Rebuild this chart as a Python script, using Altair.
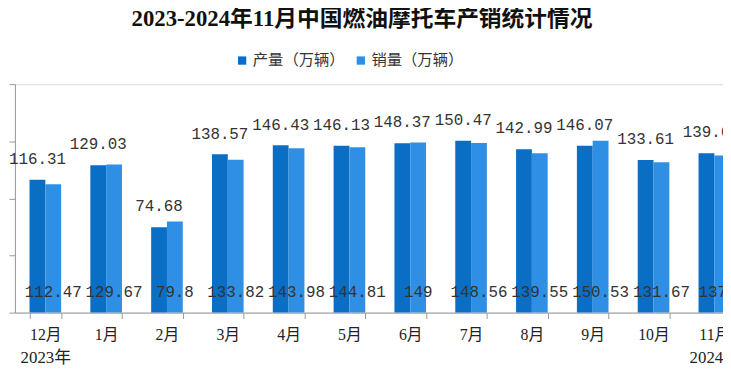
import altair as alt
import pandas as pd

months = ["12月", "1月", "2月", "3月", "4月", "5月", "6月", "7月", "8月", "9月", "10月", "11月"]
production = [116.31, 129.03, 74.68, 138.57, 146.43, 146.13, 148.37, 150.47, 142.99, 146.07, 133.61, 139.6]
sales = [112.47, 129.67, 79.8, 133.82, 143.98, 144.81, 149, 148.56, 139.55, 150.53, 131.67, 137.5]
series = ["产量（万辆）", "销量（万辆）"]
colors = ["#0A6EC4", "#2F8FE4"]
years = ["2023年", "2024年"]
year_months = ["12月", "11月"]
y_ticks = [0, 50, 100, 150, 200]

rows = []
for m, p, s in zip(months, production, sales):
    rows.append({"month": m, "series": series[0], "value": p, "label": f"{p:g}"})
    rows.append({"month": m, "series": series[1], "value": s, "label": f"{s:g}"})
df = pd.DataFrame(rows)
year_df = pd.DataFrame({"month": year_months, "year": years})

x_scale = alt.Scale(domain=months, range=[0, 738], paddingInner=0.48, paddingOuter=0.24)
off_scale = alt.Scale(domain=series)
y_scale = alt.Scale(domain=[0, 200])

base = alt.Chart(df)

x_enc = alt.X("month:N", scale=x_scale, sort=months,
              axis=alt.Axis(title=None, labelAngle=0, tickBand="extent",
                            labelFont="Liberation Serif, Noto Sans CJK SC",
                            labelFontSize=16, labelColor="#222",
                            tickSize=6, labelPadding=8,
                            domainColor="#999", tickColor="#999"))
xo = alt.XOffset("series:N", scale=off_scale)

bars = base.mark_bar().encode(
    x=x_enc,
    xOffset=xo,
    y=alt.Y("value:Q", scale=y_scale,
            axis=alt.Axis(title=None, values=y_ticks, labels=False, grid=False,
                          tickSize=6, domainColor="#999", tickColor="#999")),
    color=alt.Color("series:N", scale=alt.Scale(domain=series, range=colors),
                    legend=alt.Legend(title=None, orient="none", direction="horizontal",
                                      legendX=222, legendY=-32,
                                      symbolType="square", symbolSize=70,
                                      symbolStrokeWidth=0,
                                      labelFont="Noto Sans CJK SC", labelFontSize=15.5,
                                      labelColor="#333", columnPadding=8,
                                      labelOffset=3)),
)

top_labels = base.transform_filter(alt.datum.series == series[0]).mark_text(
    font="Liberation Mono", fontSize=16, color="#333", baseline="middle", dy=-21
).encode(
    x=alt.X("month:N", scale=x_scale, sort=months),
    xOffset=xo,
    y=alt.Y("value:Q", scale=y_scale),
    text="label:N",
)

bottom_labels = base.transform_filter(alt.datum.series == series[1]).mark_text(
    font="Liberation Mono", fontSize=16, color="#333", baseline="middle"
).encode(
    x=alt.X("month:N", scale=x_scale, sort=months),
    xOffset=xo,
    y=alt.value(210),
    text="label:N",
)

year_text = alt.Chart(year_df).mark_text(
    font="Liberation Serif, Noto Sans CJK SC", fontSize=17, color="#222",
    align="left", baseline="middle", dx=-25
).encode(
    x=alt.X("month:N", scale=x_scale, sort=months),
    y=alt.value(277),
    text="year:N",
)

chart = alt.layer(bars, top_labels, bottom_labels, year_text).properties(
    width=716,
    height=231,
    title=alt.TitleParams("2023-2024年11月中国燃油摩托车产销统计情况", anchor="middle",
                          font="Liberation Serif, Noto Sans CJK SC", fontSize=23,
                          fontWeight="bold", color="#111", offset=22, dx=-7),
    autosize=alt.AutoSizeParams(type="none"),
    padding={"left": 7, "top": 75, "right": 0, "bottom": 54},
).configure_view(stroke=None).configure(background="white")

chart.save("out.html", embed_options={"renderer": "svg", "actions": False})
